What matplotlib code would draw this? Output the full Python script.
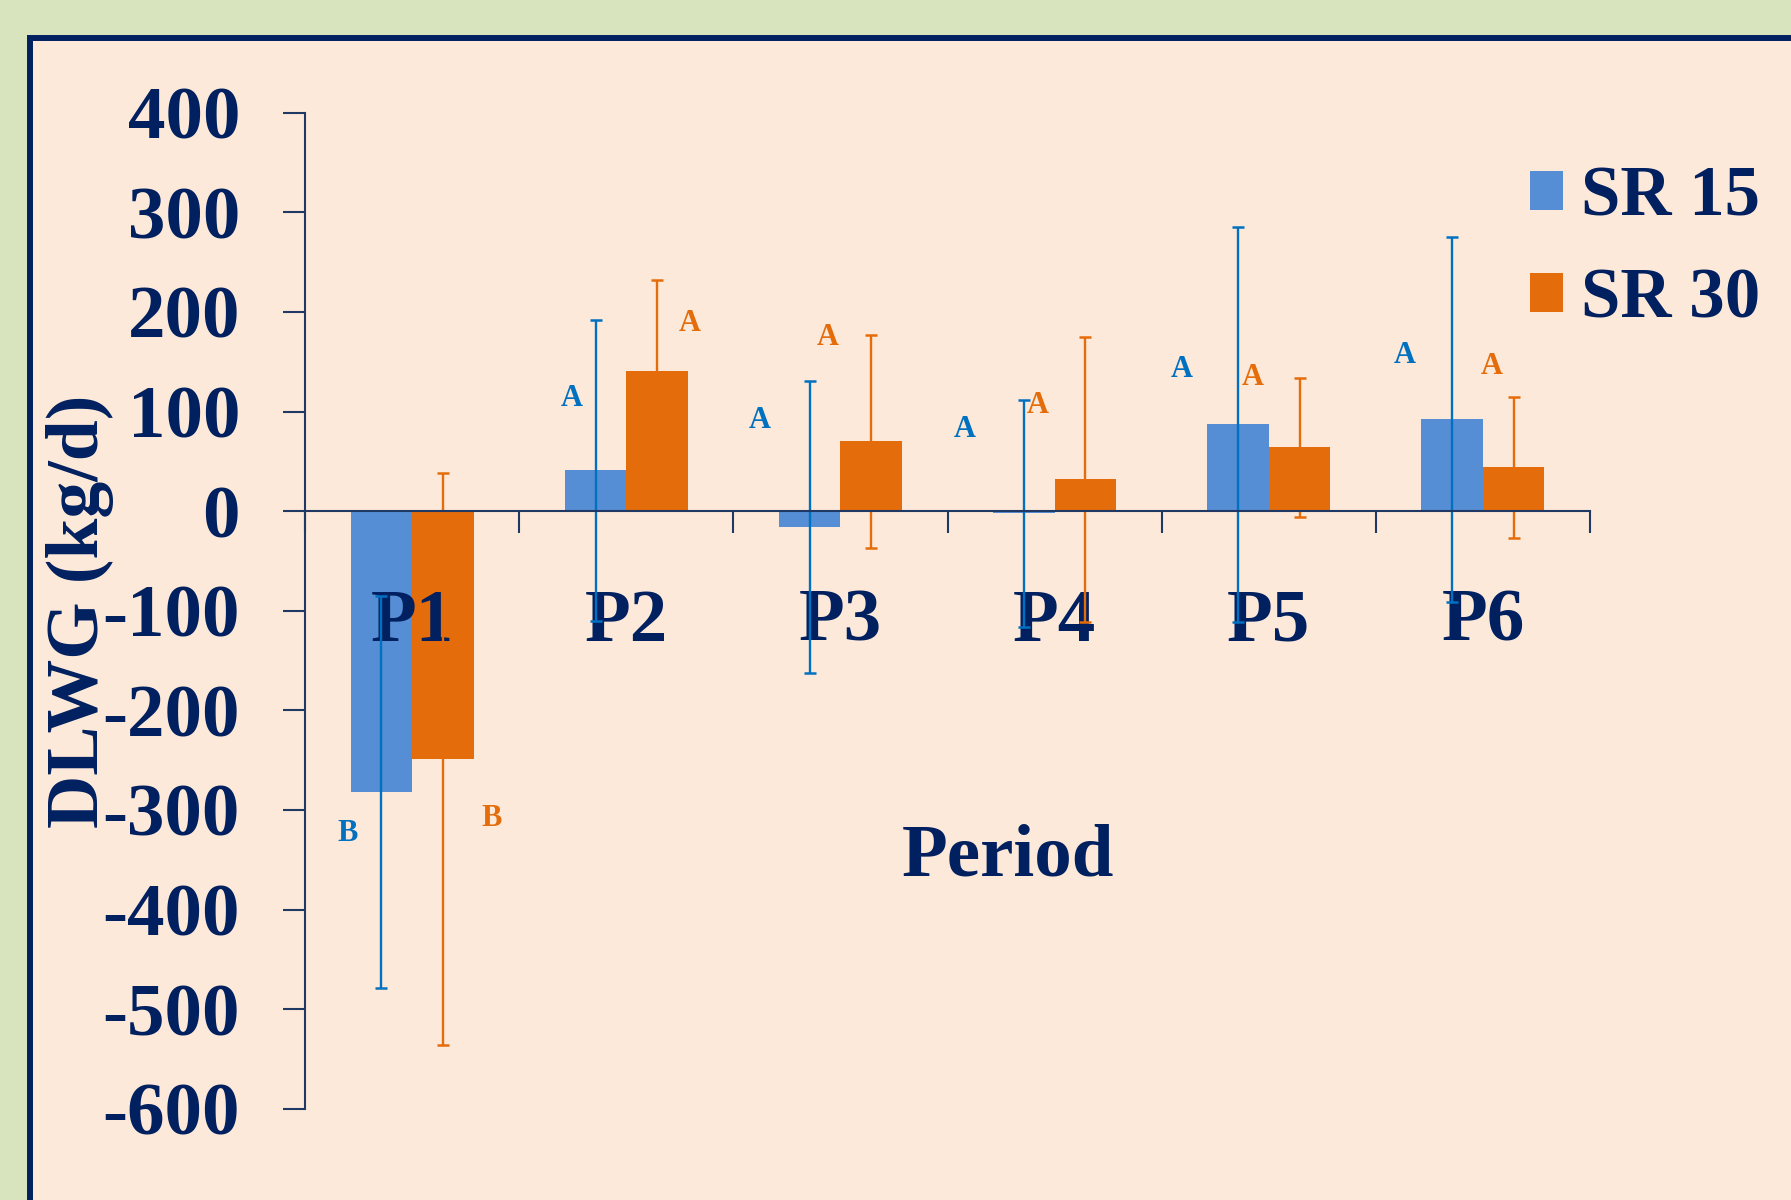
import numpy as np
import matplotlib.pyplot as plt
from matplotlib.patches import Rectangle

plt.rcParams['font.family'] = ['Liberation Serif', 'DejaVu Serif']
plt.rcParams['font.weight'] = 'bold'
plt.rcParams['axes.unicode_minus'] = False

# data
periods = ['P1', 'P2', 'P3', 'P4', 'P5', 'P6']
sr15 = [-282, 41, -16, -2, 87, 92]
sr15_sd = [197, 151, 147, 114, 198, 183]
sr30 = [-249, 141, 70, 32, 64, 44]
sr30_sd = [287, 91, 107, 143, 70, 71]
sr15_letters = ['B', 'A', 'A', 'A', 'A', 'A']
sr30_letters = ['B', 'A', 'A', 'A', 'A', 'A']

# where the significance letters sit (offset from period centre, y value)
sr15_letter_dx = [-0.30, -0.254, -0.375, -0.418, -0.405, -0.365]
sr15_letter_y = [-324, 113, 91, 82, 142, 156]
sr30_letter_dx = [0.372, 0.295, -0.061, -0.081, -0.074, 0.04]
sr30_letter_y = [-309, 188, 174, 106, 134, 145]

navy = '#002060'
blue = '#558ED5'
blue_dark = '#0070C0'
orange = '#E46C0A'

fig = plt.figure(figsize=(17.91, 12), dpi=100, facecolor='#D7E4BD')
# peach panel with navy border
panel = Rectangle((0.01675, -0.1), 1.2, 1.06833, transform=fig.transFigure,
                  facecolor='#FDE9D9', edgecolor=navy, lw=4.3, zorder=-5)
fig.patches.append(panel)

ax = fig.add_axes([0.1703, 0.07608, 0.7175, 0.83])
ax.patch.set_alpha(0)

x = np.arange(len(periods))
w = 0.287
ax.bar(x - w / 2, sr15, w, color=blue, label='SR 15', zorder=1)
ax.bar(x + w / 2, sr30, w, color=orange, label='SR 30', zorder=1)
ax.errorbar(x - w / 2, sr15, yerr=sr15_sd, fmt='none', ecolor=blue_dark,
            elinewidth=1.7, capsize=4.3, capthick=1.8, zorder=2)
ax.errorbar(x + w / 2, sr30, yerr=sr30_sd, fmt='none', ecolor=orange,
            elinewidth=1.7, capsize=4.3, capthick=1.8, zorder=2)

for i in range(len(periods)):
    ax.text(i + sr15_letter_dx[i], sr15_letter_y[i], sr15_letters[i], ha='center',
            va='center', fontsize=22, color=blue_dark)
    ax.text(i + sr30_letter_dx[i], sr30_letter_y[i], sr30_letters[i], ha='center',
            va='center', fontsize=22, color=orange)

ax.set_xlim(-0.5, 5.5)
ax.set_ylim(-600, 400)

for s in ['top', 'right']:
    ax.spines[s].set_visible(False)
ax.spines['bottom'].set_position(('data', 0))
for s in ['left', 'bottom']:
    ax.spines[s].set_color('#1F3864')
    ax.spines[s].set_linewidth(1.5)

ax.set_yticks(range(-600, 401, 100))
ax.tick_params(axis='y', direction='out', length=15.8, width=1.5, color='#1F3864',
               pad=31, labelsize=54, labelcolor=navy)

ax.set_xticks(np.arange(-0.5, 6, 1))
ax.set_xticklabels([])
ax.set_xticks(x, minor=True)
ax.set_xticklabels(periods, minor=True)
ax.tick_params(axis='x', which='major', direction='out', length=15.8, width=1.5,
               color='#1F3864')
ax.tick_params(axis='x', which='minor', length=0, pad=56, labelsize=54, labelcolor=navy)

fig.text(80 / 1791, 1 - 611 / 1200, 'DLWG (kg/d)', rotation=90, ha='center',
         va='center', fontsize=53, color=navy)
fig.text(1008 / 1791, 1 - 857 / 1200, 'Period', ha='center', va='center',
         fontsize=54, color=navy)

leg = ax.legend(loc='upper left', bbox_to_anchor=(1530 / 1791, 1 - 166 / 1200),
                bbox_transform=fig.transFigure, frameon=False, fontsize=51,
                handlelength=0.47, handleheight=0.47, handletextpad=0.25,
                labelspacing=0.52, borderpad=0, borderaxespad=0)
for t in leg.get_texts():
    t.set_color(navy)

fig.savefig('out.png', dpi=100, facecolor=fig.get_facecolor())
